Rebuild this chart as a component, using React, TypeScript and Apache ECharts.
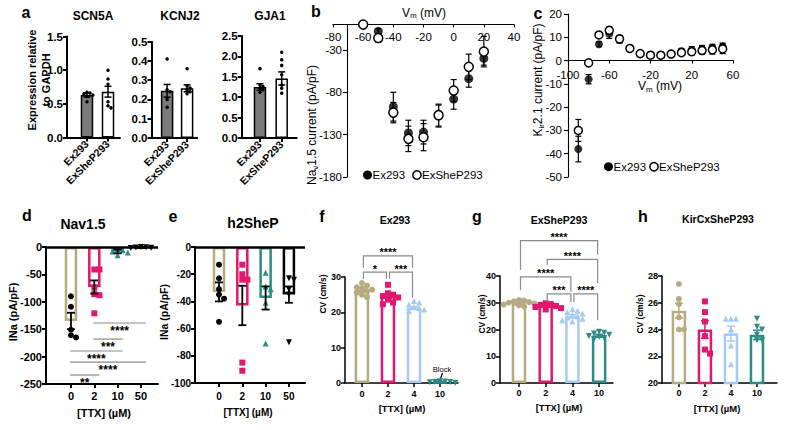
import React, { useEffect, useRef } from "react";
import * as echarts from "echarts";

const FONT = '"Liberation Sans", Arial, Helvetica, sans-serif';
const TAN = "#b6ab7e";
const PINK = "#e2176e";
const BLUE = "#a3cbf3";
const TEAL = "#2d8c82";
const BLACK = "#000000";
const GRAYBAR = "#7b7b7b";
const SIGGRAY = "#8a8a8a";

/* ---------- a: expression relative to GAPDH ---------- */
const aCats = ["Ex293", "ExSheP293"];
const scn5aMean = [0.63, 0.68];
const scn5aSem = [0.03, 0.08];
const scn5aEx293 = [0.67, 0.66, 0.65, 0.63, 0.61, 0.53];
const scn5aExSheP = [1.0, 0.87, 0.79, 0.53, 0.47, 0.44];
const kcnj2Mean = [0.245, 0.258];
const kcnj2Sem = [0.033, 0.018];
const kcnj2Ex293 = [0.41, 0.25, 0.24, 0.2, 0.16];
const kcnj2ExSheP = [0.36, 0.27, 0.26, 0.25, 0.24, 0.23];
const gja1Mean = [1.25, 1.46];
const gja1Sem = [0.08, 0.16];
const gja1Ex293 = [1.7, 1.3, 1.26, 1.22, 1.18, 1.12];
const gja1ExSheP = [2.1, 1.92, 1.78, 1.55, 1.3, 1.22, 1.1];

/* ---------- b: Nav1.5 I-V ---------- */
const bVm = [-60, -50, -40, -30, -20, -10, 0, 10, 20];
const bEx293 = [-1, -8, -97, -128, -127, -108, -88, -64, -40];
const bEx293Sem = [1, 3, 17, 15, 14, 13, 12, 10, 8];
const bExSheP = [0, -16, -104, -135, -133, -107, -78, -50, -32];
const bExShePSem = [1, 5, 12, 15, 16, 13, 13, 15, 18];
const bXTicks = [-80, -60, -40, -20, 0, 20, 40];
const bYTicks = [-180, -130, -80, -30];

/* ---------- c: Kir2.1 I-V ---------- */
const cVm = [-90, -80, -70, -60, -50, -40, -30, -20, -10, 0, 10, 20, 30, 40, 50];
const cEx293 = [-38, -8, 7, 11.5, 9, 5, 3, 2.5, 2.5, 3, 4, 4.5, 5, 5.5, 6];
const cEx293Sem = [5.5, 2, 1, 2, 1.5, 1, 1, 1, 1, 1, 1.2, 1.5, 1.5, 1.5, 1.5];
const cExSheP = [-30, -1, 11, 13, 9.3, 5.2, 3, 2.3, 2.3, 2.8, 3.4, 3.8, 4.3, 4.6, 5];
const cExShePSem = [4.7, 0.5, 1, 1.5, 1.5, 1, 1, 1, 1, 1, 1.2, 1.5, 1.5, 1.8, 2];
const cXTicks = [-100, -60, -20, 20, 60];

/* ---------- d, e: INa vs TTX ---------- */
const ttxDE = ["0", "2", "10", "50"];
const dMean = [-135, -73, -8, -1];
const dSem = [15, 12, 3.5, 0.5];
const dPts = [
  [-90, -109, -151, -161, -165],
  [-41, -41, -74, -86, -88, -121],
  [-4, -6, -8, -10, -15],
  [0, -0.5, -1, -1.5, -2],
];
const dSig = [
  [1, 3, -138.7],
  [1, 2, -168],
  [0, 2, -189.8],
  [0, 3, -210],
  [0, 1, -233.6],
];
const dSigLabels = ["****", "***", "****", "****", "**"];

const eMean = [-33, -43, -37.5, -35];
const eSem = [7, 14.5, 8.5, 6];
const ePts = [
  [-13, -23, -31, -35, -38, -55],
  [-13, -20, -24, -24, -85, -91],
  [-19, -29, -31, -41, -71],
  [-23, -24, -31, -35, -70],
];

/* ---------- f, g, h: CV vs TTX ---------- */
const ttxFGH = ["0", "2", "4", "10"];
const fMean = [26.4, 24.6, 21.3, 0.3];
const fSem = [0.5, 0.6, 0.3, 0.1];
const fPts = [
  [28.3, 27.6, 27.1, 26.8, 26.4, 26.0, 25.6, 25.0, 24.3],
  [27.8, 25.4, 25.0, 24.6, 24.2, 23.6, 22.8, 22.3],
  [23.2, 22.8, 22.2, 21.6, 21.2, 20.8, 20.4],
  [0.5, 0.4, 0.3, 0.3, 0.2, 0.1],
];
const fSig = [
  [0, 2, 36.0, 32.6, 32.6],
  [0, 1, 31.4, 29.5, 29.5],
  [1, 2, 31.4, 29.5, 24.1],
];
const fSigLabels = ["****", "*", "***"];

const gMean = [29.8, 29.0, 25.0, 17.8];
const gSem = [0.3, 0.3, 0.5, 0.4];
const gPts = [
  [31, 30.8, 30.5, 30.2, 30, 29.7, 29.3, 29, 28.6],
  [29.8, 29.5, 29.2, 28.8, 28.4, 28, 27.5],
  [27.6, 27, 26.5, 26, 25.4, 25, 24.5, 24, 23.5, 23],
  [19.2, 18.8, 18.5, 18, 17.6, 17.2, 16.8, 16.4],
];
const gSig = [
  [0, 3, 53.2, 42.2, 48.0],
  [1, 3, 46.2, 44.1, 37.3],
  [0, 2, 39.7, 34.8, 34.1],
  [1, 2, 33.3, 30.3, 30.3],
  [2, 3, 33.3, 30.3, 23.5],
];
const gSigLabels = ["****", "****", "****", "***", "****"];

const hMean = [25.4, 24.0, 23.7, 23.6];
const hSem = [0.55, 0.65, 0.55, 0.35];
const hPts = [
  [27.4, 26.3, 25.9, 24.9, 24.0, 24.0],
  [26.1, 25.3, 24.6, 23.5, 22.5, 22.2],
  [24.8, 24.8, 24.8, 24.0, 22.8, 21.4],
  [24.8, 24.2, 24.0, 23.6, 23.2, 23.2],
];

type Any = any;

function measure(text: string, font: string): number {
  const ctx = document.createElement("canvas").getContext("2d");
  if (!ctx) return text.length * 6;
  ctx.font = font;
  return ctx.measureText(text).width;
}

function swarm(vals: number[], pxY: number, size: number): number[] {
  const placed: { x: number; y: number }[] = [];
  const step = size * 0.85;
  const cands = [0, 1, -1, 2, -2, 3, -3];
  return vals.map((v) => {
    const y = v * pxY;
    for (const k of cands) {
      const x = k * step;
      if (placed.every((p) => (p.x - x) ** 2 + (p.y - y) ** 2 >= (size * 0.85) ** 2)) {
        placed.push({ x, y });
        return x;
      }
    }
    placed.push({ x: 0, y });
    return 0;
  });
}

function buildOption() {
  const grids: Any[] = [];
  const xAxes: Any[] = [];
  const yAxes: Any[] = [];
  const series: Any[] = [];
  const graphics: Any[] = [];

  const txt = (text: string, x: number, y: number, size: number, weight = "bold", rot = 0, extra: Any = {}) => ({
    type: "text",
    x,
    y,
    rotation: rot,
    silent: true,
    style: { text, font: `${weight} ${size}px ${FONT}`, fill: "#000", align: "center", verticalAlign: "middle", ...extra },
  });

  const segText = (segs: { t: string; size: number; dy?: number }[], cx: number, cy: number, rot = 0) => {
    const fonts = segs.map((s) => `normal ${s.size}px ${FONT}`);
    const widths = segs.map((s, k) => measure(s.t, fonts[k]));
    const total = widths.reduce((a, b) => a + b, 0);
    let x = -total / 2;
    const children = segs.map((s, k) => {
      const el = {
        type: "text",
        x,
        y: s.dy ?? 0,
        style: { text: s.t, font: fonts[k], fill: "#000", align: "left", verticalAlign: "middle" },
      };
      x += widths[k];
      return el;
    });
    return { type: "group", x: cx, y: cy, rotation: rot, silent: true, children };
  };

  const zeroLine = (width: number) => ({
    silent: true, symbol: ["none", "none"], label: { show: false },
    lineStyle: { color: "#000", width, type: "solid" },
    data: [{ yAxis: 0 }],
  });

  const errorSeries = (idx: number, xs: number[], means: number[], sems: number[], colors: string[], cap: number, lw: number, z = 5) => ({
    type: "custom",
    xAxisIndex: idx,
    yAxisIndex: idx,
    z,
    silent: true,
    dimensions: ["x", "y", "s"],
    encode: { x: 0, y: 1 },
    data: means.map((m, k) => [xs[k], m, sems[k]]),
    renderItem: (params: Any, api: Any) => {
      const x = api.value(0);
      const m = api.value(1);
      const s = api.value(2);
      const a = api.coord([x, m + s]);
      const b = api.coord([x, m - s]);
      const st = { stroke: colors[params.dataIndex % colors.length], lineWidth: lw };
      return {
        type: "group",
        children: [
          { type: "line", shape: { x1: a[0], y1: a[1], x2: b[0], y2: b[1] }, style: st },
          { type: "line", shape: { x1: a[0] - cap, y1: a[1], x2: a[0] + cap, y2: a[1] }, style: st },
          { type: "line", shape: { x1: b[0] - cap, y1: b[1], x2: b[0] + cap, y2: b[1] }, style: st },
        ],
      };
    },
  });

  const sigSeries = (idx: number, rows: number[][], labels: string[], mode: "flat" | "bracket", fontSize: number) => ({
    type: "custom",
    xAxisIndex: idx,
    yAxisIndex: idx,
    z: 7,
    silent: true,
    dimensions: ["x", "y", "x2", "yl", "yr"],
    encode: { x: 0, y: 1 },
    data: rows.map((r) => (mode === "flat" ? [r[0], r[2], r[1], r[2], r[2]] : [r[0], r[2], r[1], r[3], r[4]])),
    renderItem: (params: Any, api: Any) => {
      const i = api.value(0);
      const top = api.value(1);
      const j = api.value(2);
      const yl = api.value(3);
      const yr = api.value(4);
      const p1 = api.coord([i, top]);
      const p2 = api.coord([j, top]);
      const font = `bold ${fontSize}px ${FONT}`;
      const label = labels[params.dataIndex];
      if (mode === "flat") {
        const x1 = p1[0] - 1;
        const x2 = p2[0] + 5;
        return {
          type: "group",
          children: [
            { type: "line", shape: { x1, y1: p1[1], x2, y2: p1[1] }, style: { stroke: SIGGRAY, lineWidth: 1.2 } },
            { type: "text", x: (x1 + x2) / 2, y: p1[1] + 2, style: { text: label, font, fill: "#000", align: "center", verticalAlign: "top" } },
          ],
        };
      }
      const l = api.coord([i, yl]);
      const r = api.coord([j, yr]);
      const x1 = p1[0] + 1.5;
      const x2 = p2[0] - 1.5;
      return {
        type: "group",
        children: [
          {
            type: "polyline",
            shape: { points: [[x1, l[1]], [x1, p1[1]], [x2, p2[1]], [x2, r[1]]] },
            style: { stroke: SIGGRAY, lineWidth: 1.2, fill: "none" },
          },
          { type: "text", x: (x1 + x2) / 2, y: p1[1] + 2, style: { text: label, font, fill: "#000", align: "center", verticalAlign: "bottom" } },
        ],
      };
    },
  });

  type BarCfg = {
    left: number; top: number; width: number; height: number;
    xMin: number; xMax: number; yMin: number; yMax: number; yStep: number;
    cats: string[]; means: number[]; sems: number[]; pts: number[][];
    edge: string[]; fill: string[]; ptColor: string[]; symbols: string[]; rot: number[];
    barW: number; border: number; errColor: string[]; cap: number; errW: number;
    ptSize: number; tickFont: number; catFont: number; axisW: number;
    yFmt?: (v: number) => string; catRotate?: number; catMargin: number; zeroLine?: boolean;
  };

  const barPanel = (c: BarCfg) => {
    const i = grids.length;
    grids.push({ left: c.left, top: c.top, width: c.width, height: c.height });
    const idx = c.cats.map((_, k) => k);
    const ls = { color: "#000", width: c.axisW };
    xAxes.push({
      gridIndex: i, type: "value", min: c.xMin, max: c.xMax, position: "bottom",
      axisLine: { show: true, onZero: false, lineStyle: ls },
      axisTick: { show: true, customValues: idx, length: 4, lineStyle: ls },
      axisLabel: {
        customValues: idx, formatter: (v: number) => c.cats[Math.round(v)] ?? "",
        fontSize: c.catFont, fontWeight: "bold", color: "#000", rotate: c.catRotate ?? 0, margin: c.catMargin, fontFamily: FONT,
      },
      splitLine: { show: false },
    });
    const yLabel: Any = { fontSize: c.tickFont, fontWeight: "bold", color: "#000", margin: 4, fontFamily: FONT };
    if (c.yFmt) yLabel.formatter = c.yFmt;
    yAxes.push({
      gridIndex: i, type: "value", min: c.yMin, max: c.yMax, interval: c.yStep,
      axisLine: { show: true, onZero: false, lineStyle: ls },
      axisTick: { show: true, length: 4, lineStyle: ls },
      axisLabel: yLabel,
      splitLine: { show: false },
    });
    const bar: Any = {
      type: "bar", xAxisIndex: i, yAxisIndex: i, barWidth: c.barW, z: 2, silent: true,
      data: c.means.map((m, k) => ({ value: [k, m], itemStyle: { color: c.fill[k], borderColor: c.edge[k], borderWidth: c.border } })),
    };
    if (c.zeroLine) bar.markLine = zeroLine(2.5);
    series.push(bar);
    const pxY = c.height / (c.yMax - c.yMin);
    const pxX = c.width / (c.xMax - c.xMin);
    c.pts.forEach((arr, k) => {
      const offs = swarm(arr, pxY, c.ptSize);
      series.push({
        type: "scatter", xAxisIndex: i, yAxisIndex: i, z: 3, silent: true,
        symbol: c.symbols[k], symbolRotate: c.rot[k], symbolSize: c.ptSize,
        itemStyle: { color: c.ptColor[k], opacity: 1 },
        data: arr.map((v, j) => [k + offs[j] / pxX, v]),
      });
    });
    series.push(errorSeries(i, idx, c.means, c.sems, c.errColor, c.cap, c.errW, 5));
    return i;
  };

  /* ---------- panel a ---------- */
  const aCommon = {
    cats: aCats, edge: [BLACK, BLACK], fill: [GRAYBAR, "#ffffff"], ptColor: [BLACK, BLACK],
    symbols: ["circle", "circle"], rot: [0, 0], barW: 12.5, border: 1.5, errColor: [BLACK], cap: 3.5, errW: 1.5,
    ptSize: 3.5, tickFont: 11.5, catFont: 10.5, axisW: 2, yFmt: (v: number) => v.toFixed(1), catRotate: 45, catMargin: 5,
  };
  barPanel({ ...aCommon, left: 67, top: 36.5, width: 53, height: 101, xMin: -0.95, xMax: 1.57, yMin: 0, yMax: 1.5, yStep: 0.5,
    means: scn5aMean, sems: scn5aSem, pts: [scn5aEx293, scn5aExSheP] });
  barPanel({ ...aCommon, left: 151.5, top: 41.7, width: 45.6, height: 96.3, xMin: -0.78, xMax: 1.5, yMin: 0, yMax: 0.5, yStep: 0.1,
    means: kcnj2Mean, sems: kcnj2Sem, pts: [kcnj2Ex293, kcnj2ExSheP] });
  barPanel({ ...aCommon, left: 241.7, top: 36, width: 55, height: 102, xMin: -0.84, xMax: 1.69, yMin: 0, yMax: 2.5, yStep: 0.5,
    means: gja1Mean, sems: gja1Sem, pts: [gja1Ex293, gja1ExSheP] });

  /* ---------- panel b ---------- */
  const ivAxisStyle = { color: "#000", width: 1.1 };
  const ivLabel = { fontSize: 11.5, color: "#000", fontFamily: FONT };
  const bi = grids.length;
  grids.push({ left: 333, top: 24.5, width: 181, height: 152.5 });
  xAxes.push({
    gridIndex: bi, type: "value", min: -80, max: 40, interval: 20, position: "top",
    axisLine: { show: true, onZero: false, lineStyle: ivAxisStyle },
    axisTick: { show: true, inside: true, length: 3, lineStyle: ivAxisStyle },
    axisLabel: { ...ivLabel, inside: true, margin: 6, customValues: bXTicks },
    splitLine: { show: false },
  });
  yAxes.push({
    gridIndex: bi, type: "value", min: -180, max: 0, offset: -14,
    axisLine: { show: true, onZero: false, lineStyle: ivAxisStyle },
    axisTick: { show: true, length: 4, customValues: bYTicks, lineStyle: ivAxisStyle },
    axisLabel: { ...ivLabel, margin: 5, customValues: bYTicks },
    splitLine: { show: false },
  });
  series.push(errorSeries(bi, bVm, bEx293, bEx293Sem, [BLACK], 3, 1.2, 3));
  series.push(errorSeries(bi, bVm, bExSheP, bExShePSem, [BLACK], 3, 1.2, 3));
  series.push({
    type: "scatter", name: "Ex293", xAxisIndex: bi, yAxisIndex: bi, z: 4, silent: true, symbol: "circle", symbolSize: 9,
    itemStyle: { color: BLACK }, data: bVm.map((v, k) => [v, bEx293[k]]),
  });
  series.push({
    type: "scatter", name: "ExSheP293", xAxisIndex: bi, yAxisIndex: bi, z: 5, silent: true, symbol: "circle", symbolSize: 9,
    itemStyle: { color: "#ffffff", borderColor: BLACK, borderWidth: 1.5, opacity: 1 }, data: bVm.map((v, k) => [v, bExSheP[k]]),
  });

  /* ---------- panel c ---------- */
  const cTop = 14;
  const cHeight = 163;
  const cYMin = -50;
  const cYMax = 20;
  const ci = grids.length;
  grids.push({ left: 568, top: cTop, width: 165, height: cHeight });
  xAxes.push({
    gridIndex: ci, type: "value", min: -100, max: 60, show: false,
    splitLine: { show: false },
  });
  yAxes.push({
    gridIndex: ci, type: "value", min: cYMin, max: cYMax, interval: 10,
    axisLine: { show: true, onZero: false, lineStyle: ivAxisStyle },
    axisTick: { show: true, length: 4, lineStyle: ivAxisStyle },
    axisLabel: { ...ivLabel, margin: 6 },
    splitLine: { show: false },
  });
  series.push(errorSeries(ci, cVm, cEx293, cEx293Sem, [BLACK], 3, 1.2, 3));
  series.push(errorSeries(ci, cVm, cExSheP, cExShePSem, [BLACK], 3, 1.2, 3));
  series.push({
    type: "scatter", name: "Ex293", xAxisIndex: ci, yAxisIndex: ci, z: 4, silent: true, symbol: "circle", symbolSize: 8,
    itemStyle: { color: BLACK }, data: cVm.map((v, k) => [v, cEx293[k]]),
  });
  series.push({
    type: "scatter", name: "ExSheP293", xAxisIndex: ci, yAxisIndex: ci, z: 5, silent: true, symbol: "circle", symbolSize: 8,
    itemStyle: { color: "#ffffff", borderColor: BLACK, borderWidth: 1.5, opacity: 1 }, data: cVm.map((v, k) => [v, cExSheP[k]]),
  });
  // the Vm axis of panel c crosses the current axis at 0 pA/pF
  const cZeroY = cTop + (cHeight * cYMax) / (cYMax - cYMin);
  const c2 = grids.length;
  grids.push({ left: 568, top: cZeroY, width: 165, height: cTop + cHeight - cZeroY });
  xAxes.push({
    gridIndex: c2, type: "value", min: -100, max: 60, position: "top",
    axisLine: { show: true, onZero: false, lineStyle: ivAxisStyle },
    axisTick: { show: true, inside: true, length: 3, customValues: cXTicks, lineStyle: ivAxisStyle },
    axisLabel: { ...ivLabel, inside: true, margin: 8, customValues: cXTicks },
    splitLine: { show: false },
  });
  yAxes.push({ gridIndex: c2, type: "value", min: 0, max: 1, show: false, splitLine: { show: false } });

  /* ---------- panels d, e ---------- */
  const deCommon = {
    cats: ttxDE, edge: [TAN, PINK, TEAL, BLACK], fill: ["#ffffff", "#ffffff", "#ffffff", "#ffffff"],
    ptColor: [BLACK, PINK, TEAL, BLACK], symbols: ["circle", "rect", "triangle", "triangle"], rot: [0, 0, 0, 180],
    barW: 12.5, border: 2.5, errColor: [BLACK], cap: 4, errW: 1.8, ptSize: 6, axisW: 2, zeroLine: true,
  };
  const di = barPanel({ ...deCommon, left: 46, top: 247, width: 112, height: 137, xMin: -1.07, xMax: 3.73,
    yMin: -250, yMax: 0, yStep: 50, means: dMean, sems: dSem, pts: dPts, tickFont: 11, catFont: 11, catMargin: 6 });
  series.push(sigSeries(di, dSig, dSigLabels, "flat", 12));
  barPanel({ ...deCommon, left: 195, top: 247, width: 110, height: 136, xMin: -1.03, xMax: 3.69,
    yMin: -100, yMax: 0, yStep: 20, means: eMean, sems: eSem, pts: ePts, tickFont: 10, catFont: 10, catMargin: 8 });

  /* ---------- panels f, g, h ---------- */
  const fghCommon = {
    cats: ttxFGH, edge: [TAN, PINK, BLUE, TEAL], fill: ["#ffffff", "#ffffff", "#ffffff", "#ffffff"],
    ptColor: [TAN, PINK, BLUE, TEAL], symbols: ["circle", "rect", "triangle", "triangle"], rot: [0, 0, 0, 180],
    barW: 14.5, border: 2.5, errColor: [TAN, PINK, BLUE, TEAL], cap: 4, errW: 1.5, ptSize: 6,
    tickFont: 9, catFont: 9, axisW: 1.5, catMargin: 6,
  };
  const fi = barPanel({ ...fghCommon, left: 345, top: 277, width: 113, height: 106, xMin: -0.65, xMax: 3.69,
    yMin: 0, yMax: 30, yStep: 10, means: fMean, sems: fSem, pts: fPts });
  series.push(sigSeries(fi, fSig, fSigLabels, "bracket", 11));
  const gi = barPanel({ ...fghCommon, left: 500, top: 276, width: 113, height: 107, xMin: -0.71, xMax: 3.52,
    yMin: 0, yMax: 40, yStep: 10, means: gMean, sems: gSem, pts: gPts, catMargin: 5 });
  series.push(sigSeries(gi, gSig, gSigLabels, "bracket", 11));
  barPanel({ ...fghCommon, left: 662, top: 276, width: 115, height: 107, xMin: -0.65, xMax: 3.77,
    yMin: 20, yMax: 28, yStep: 2, means: hMean, sems: hSem, pts: hPts, catMargin: 5 });

  /* ---------- texts ---------- */
  const letters: [string, number, number][] = [
    ["a", 26, 12], ["b", 316, 11], ["c", 538, 13], ["d", 27, 215],
    ["e", 173, 216], ["f", 322, 216], ["g", 477, 216], ["h", 643, 216],
  ];
  letters.forEach(([t, x, y]) => graphics.push(txt(t, x, y, 16)));

  graphics.push(txt("SCN5A", 93, 16, 12));
  graphics.push(txt("KCNJ2", 180, 16, 12));
  graphics.push(txt("GJA1", 270, 16, 12));
  graphics.push(txt("Expression relative\nto GAPDH", 39, 80, 11, "bold", Math.PI / 2, { lineHeight: 14 }));

  graphics.push(segText([{ t: "V", size: 12 }, { t: "m", size: 8, dy: 3 }, { t: " (mV)", size: 12 }], 424, 12.5));
  graphics.push(segText([{ t: "Na", size: 12 }, { t: "v", size: 8, dy: 3 }, { t: "1.5 current (pA/pF)", size: 12 }], 312, 125, Math.PI / 2));
  graphics.push(segText([{ t: "V", size: 12 }, { t: "m", size: 8, dy: 3 }, { t: " (mV)", size: 12 }], 660, 86));
  graphics.push(segText([{ t: "K", size: 12 }, { t: "ir", size: 8, dy: 3 }, { t: "2.1 current (pA/pF)", size: 12 }], 538, 80, Math.PI / 2));

  const legendAt = (x: number, y: number, x2: number) => {
    graphics.push({ type: "circle", silent: true, shape: { cx: x, cy: y, r: 4.5 }, style: { fill: BLACK } });
    graphics.push(txt("Ex293", x + 5, y, 11.5, "normal", 0, { align: "left" }));
    graphics.push({ type: "circle", silent: true, shape: { cx: x2, cy: y, r: 4.2 }, style: { fill: "#fff", stroke: BLACK, lineWidth: 1.5 } });
    graphics.push(txt("ExSheP293", x2 + 5, y, 11.5, "normal", 0, { align: "left" }));
  };
  legendAt(367.5, 175, 417);
  legendAt(608.5, 166.7, 654);

  graphics.push(txt("Nav1.5", 83, 224, 14));
  graphics.push(txt("INa (pA/pF)", 13, 312, 11, "bold", Math.PI / 2));
  graphics.push(txt("[TTX] (µM)", 104, 413, 11));
  graphics.push(txt("h2SheP", 253, 223, 14));
  graphics.push(txt("INa (pA/pF)", 164, 312, 10.5, "bold", Math.PI / 2));
  graphics.push(txt("[TTX] (µM)", 248, 412, 10));
  graphics.push(txt("Ex293", 395, 220, 10.5));
  graphics.push(txt("CV (cm/s)", 323, 294, 8.5, "bold", Math.PI / 2));
  graphics.push(txt("[TTX] (µM)", 402, 408, 9.5));
  graphics.push(txt("ExSheP293", 559, 219.5, 10.5));
  graphics.push(txt("CV (cm/s)", 482, 314, 8.5, "bold", Math.PI / 2));
  graphics.push(txt("[TTX] (µM)", 559, 407, 9.5));
  graphics.push(txt("KirCxSheP293", 718, 219, 10.5));
  graphics.push(txt("CV (cm/s)", 640, 314, 8.5, "bold", Math.PI / 2));
  graphics.push(txt("[TTX] (µM)", 717, 408, 9.5));

  graphics.push(txt("Block", 442, 369, 7.5, "normal"));
  graphics.push({ type: "line", silent: true, shape: { x1: 442.5, y1: 373, x2: 440, y2: 380 }, style: { stroke: BLACK, lineWidth: 1.2 } });
  graphics.push({ type: "polygon", silent: true, shape: { points: [[436.8, 378.5], [442.6, 380.5], [439, 384]] }, style: { fill: BLACK } });

  return {
    animation: false,
    backgroundColor: "#ffffff",
    textStyle: { fontFamily: FONT },
    grid: grids,
    xAxis: xAxes,
    yAxis: yAxes,
    series,
    graphic: graphics,
  };
}

export default function App() {
  const ref = useRef<HTMLDivElement>(null);
  useEffect(() => {
    if (!ref.current) return;
    const chart = echarts.init(ref.current, undefined, { renderer: "svg", width: 800, height: 430 });
    chart.setOption(buildOption() as Any);
    return () => chart.dispose();
  }, []);
  return (
    <div
      ref={ref}
      style={{ position: "absolute", left: 0, top: 0, width: 800, height: 430, background: "#fff" }}
    />
  );
}
